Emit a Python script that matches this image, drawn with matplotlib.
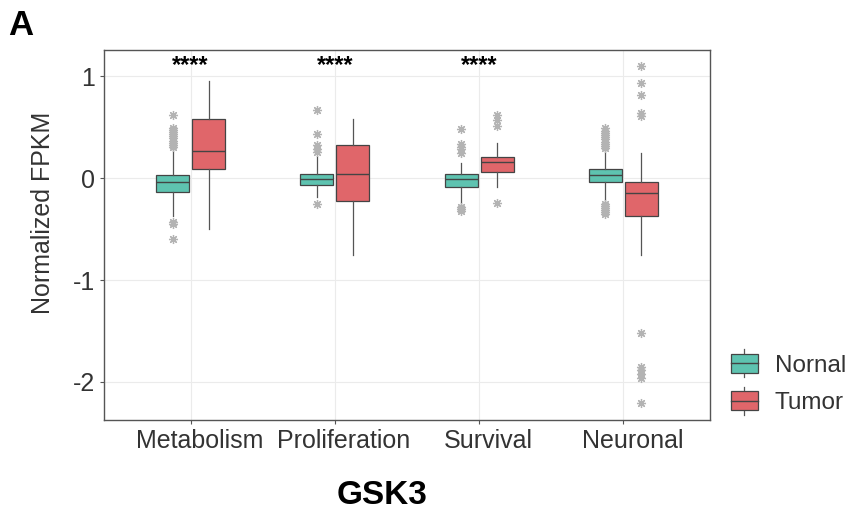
import matplotlib
matplotlib.use("Agg")
import matplotlib.pyplot as plt
import matplotlib.transforms as mtransforms
from matplotlib.patches import Rectangle, Patch
from matplotlib.lines import Line2D
from matplotlib.legend_handler import HandlerBase

plt.rcParams['font.family'] = ['Liberation Sans', 'DejaVu Sans']
plt.rcParams['axes.unicode_minus'] = False

categories = ["Metabolism", "Proliferation", "Survival", "Neuronal"]
groups = ["Nornal", "Tumor"]
colors = ["#5ec3b0", "#e0666a"]
signif = ["****", "****", "****", ""]

# whislo, q1, median, q3, whishi
normal_stats = [
    [-0.37, -0.14, -0.04, 0.03, 0.28],
    [-0.18, -0.07, -0.01, 0.04, 0.22],
    [-0.25, -0.09, -0.01, 0.045, 0.15],
    [-0.24, -0.04, 0.03, 0.09, 0.29],
]
tumor_stats = [
    [-0.50, 0.09, 0.27, 0.58, 0.95],
    [-0.75, -0.22, 0.045, 0.33, 0.58],
    [-0.09, 0.065, 0.16, 0.21, 0.35],
    [-0.75, -0.37, -0.15, -0.04, 0.25],
]
normal_out = [
    [0.62, 0.49, 0.47, 0.45, 0.43, 0.41, 0.39, 0.37, 0.35, 0.33, 0.31, -0.43, -0.45, -0.60],
    [0.67, 0.43, 0.33, 0.29, 0.26, -0.25],
    [0.48, 0.34, 0.31, 0.29, 0.25, -0.28, -0.30, -0.32],
    [0.49, 0.46, 0.44, 0.42, 0.40, 0.38, 0.36, 0.34, 0.32, 0.30,
     -0.25, -0.27, -0.29, -0.31, -0.33, -0.35],
]
tumor_out = [
    [],
    [],
    [0.62, 0.57, 0.51, -0.24],
    [1.10, 0.93, 0.82, 0.64, 0.61, -1.52, -1.85, -1.88, -1.92, -1.96, -2.21],
]

edge = "#444444"
fig = plt.figure(figsize=(8.52, 5.21), dpi=100)
ax = fig.add_axes([104 / 852, 1 - 420 / 521, 606 / 852, 370 / 521])


def to_bxp(stats, outs):
    res = []
    for s, o in zip(stats, outs):
        res.append(dict(whislo=s[0], q1=s[1], med=s[2], q3=s[3], whishi=s[4], fliers=o))
    return res


for k, (stats, outs) in enumerate([(normal_stats, normal_out), (tumor_stats, tumor_out)]):
    off = -0.125 if k == 0 else 0.125
    pos = [i + 1 + off for i in range(len(categories))]
    ax.bxp(to_bxp(stats, outs), positions=pos, widths=0.23, patch_artist=True,
           showcaps=False, manage_ticks=False,
           boxprops=dict(facecolor=colors[k], edgecolor=edge, linewidth=0.9),
           medianprops=dict(color=edge, linewidth=1.0),
           whiskerprops=dict(color="#555555", linewidth=0.9),
           flierprops=dict(marker=(8, 2, 0), markersize=6.5, markeredgewidth=0.9,
                           markeredgecolor="#b3b3b3", markerfacecolor="#b3b3b3"),
           zorder=3)

for i, s in enumerate(signif):
    if s:
        ax.text(i + 1, 1.04, s, ha='center', va='baseline', fontsize=17, fontweight='bold')

ax.set_xlim(0.4, 4.6)
ax.set_ylim(-2.375, 1.259)
ax.set_xticks(range(1, len(categories) + 1))
ax.set_xticklabels(categories)
ax.set_yticks([-2, -1, 0, 1])
ax.set_yticklabels(["-2", "-1", "0", "1"])
ax.grid(True, color="#ebebeb", linewidth=0.8, zorder=0)
ax.set_axisbelow(True)
for sp in ax.spines.values():
    sp.set_color("#555555")
    sp.set_linewidth(1.0)
ax.tick_params(axis='both', colors="#555555", length=3, labelsize=18, labelcolor="#333333")
for lab in ax.get_xticklabels():
    lab.set_transform(lab.get_transform() + mtransforms.ScaledTranslation(0.09, 0, fig.dpi_scale_trans))

fig.text(43 / 852, 1 - 213 / 521, "Normalized FPKM", rotation=90, ha='center', va='center',
         fontsize=18, color="#333333")
fig.text(382 / 852, 1 - 496 / 521, "GSK3", ha='center', va='center', fontsize=24, fontweight='bold')
fig.text(8 / 852, 1 - 35 / 521, "A", ha='left', va='baseline', fontsize=25, fontweight='bold')


class BoxKey(HandlerBase):
    def create_artists(self, legend, orig_handle, xd, yd, w, h, fontsize, trans):
        x0, y0 = -xd, -yd
        cx = x0 + w / 2
        box = Rectangle((x0, y0), w, h, facecolor=orig_handle.get_facecolor(),
                        edgecolor=edge, lw=0.9, transform=trans)
        med = Line2D([x0, x0 + w], [y0 + h / 2] * 2, color=edge, lw=1.0, transform=trans)
        top = Line2D([cx, cx], [y0 + h, y0 + h * 1.25], color="#555555", lw=0.9, transform=trans)
        bot = Line2D([cx, cx], [y0 - h * 0.25, y0], color="#555555", lw=0.9, transform=trans)
        return [top, bot, box, med]


handles = [Patch(facecolor=c) for c in colors]
fig.legend(handles, groups, loc='upper left', bbox_to_anchor=(731 / 852, 1 - 354 / 521),
           frameon=False, fontsize=17.5, handler_map={Patch: BoxKey()},
           handlelength=1.1, handleheight=0.8, handletextpad=0.7, labelspacing=0.6,
           borderpad=0, borderaxespad=0, labelcolor="#333333")

fig.savefig("out.png", dpi=100)
